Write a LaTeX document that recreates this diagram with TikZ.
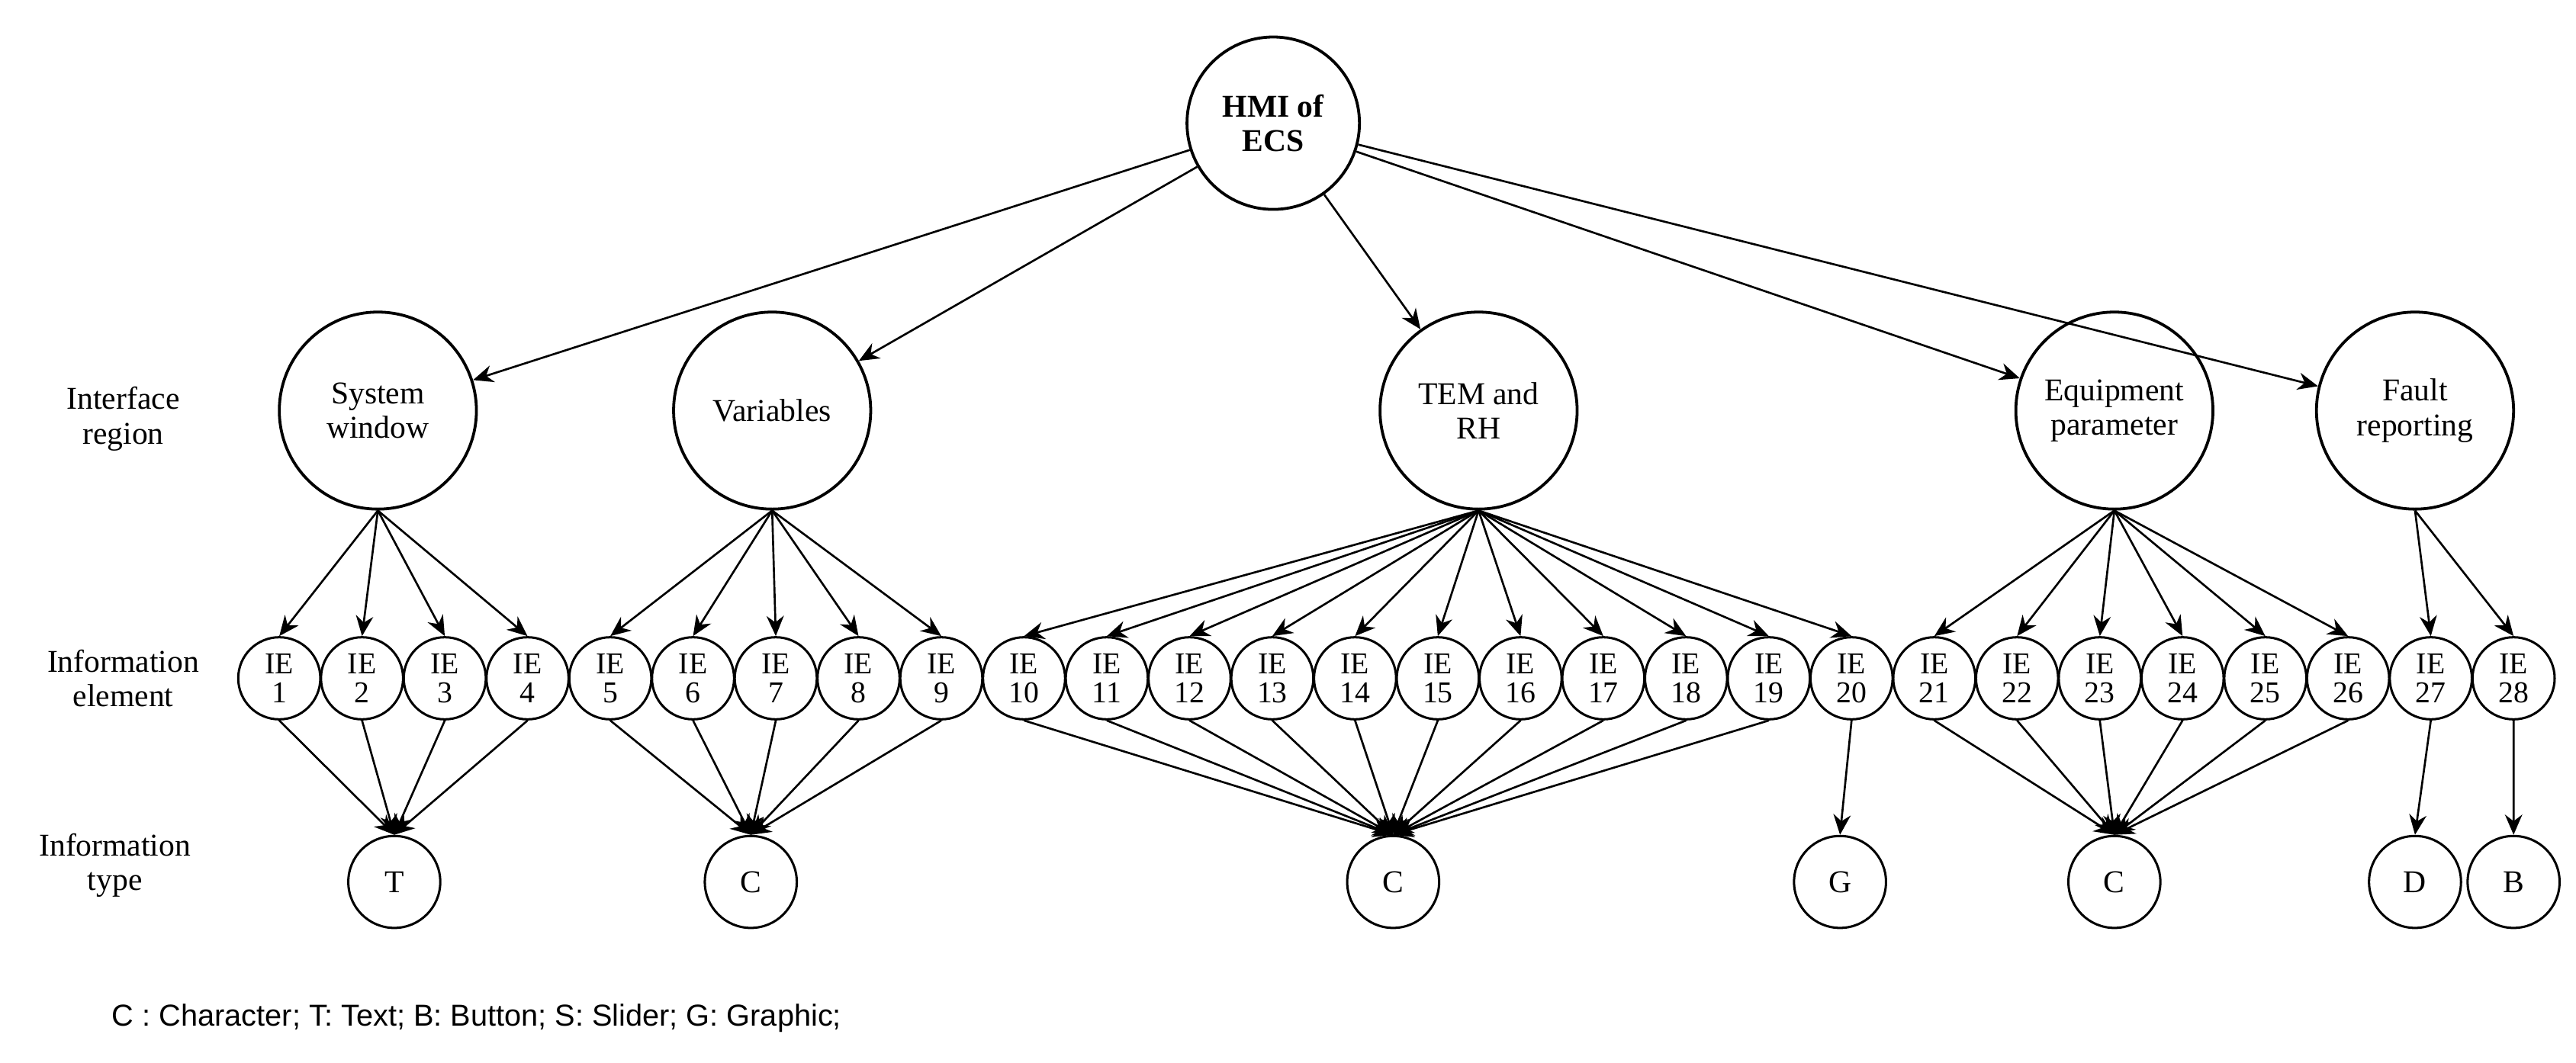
\documentclass[tikz,border=0pt]{standalone}
\usepackage{fontspec}
\setmainfont{Liberation Serif}
\newfontfamily\legendfont{Liberation Sans}
\usetikzlibrary{arrows.meta}
\begin{document}
\begin{tikzpicture}[x=0.02cm,y=-0.02cm,
  every node/.style={font=\fontsize{11}{12}\selectfont},
  big/.style={circle,draw,line width=1pt,minimum size=2.4cm,inner sep=0pt,align=center},
  root/.style={circle,draw,line width=1pt,minimum size=2.1cm,inner sep=0pt,align=center,font=\fontsize{11}{12}\selectfont\bfseries},
  ie/.style={circle,draw,line width=0.8pt,minimum size=1cm,inner sep=0pt,align=center,font=\fontsize{10.5}{10}\selectfont},
  ty/.style={circle,draw,line width=0.8pt,minimum size=1.12cm,inner sep=0pt},
  lab/.style={align=center},
  arr/.style={-{Stealth[length=7pt,width=6pt]},line width=0.7pt}]
\useasboundingbox (0,0) rectangle (1568,647);
\node[root] (root) at (775,75) {HMI of\\ECS};
\node[big] (A) at (230,250) {System\\window};
\node[big] (B) at (470,250) {Variables};
\node[big] (Cc) at (900,250) {TEM and\\RH};
\node[big] (D) at (1287,250) {Equipment\\parameter};
\node[big] (E) at (1470,250) {Fault\\reporting};
\foreach \n in {A,B,Cc,D,E} \draw[arr] (root) -- (\n);
\node[lab] (l1) at (75,255) {Interface\\region};
\node[lab] (l2) at (75,413) {Information\\element};
\node[lab] (l3) at (70,527) {Information\\type};
\foreach \i in {1,...,28} \node[ie] (ie\i) at ({170+50.37*(\i-1)},413) {IE\\\i};
\node[ty] (tT) at (240,537) {T};
\node[ty] (tC1) at (457,537) {C};
\node[ty] (tC2) at (848,537) {C};
\node[ty] (tG) at (1120,537) {G};
\node[ty] (tC3) at (1287,537) {C};
\node[ty] (tD) at (1470,537) {D};
\node[ty] (tB) at (1530,537) {B};
\foreach \i in {1,...,4} {\draw[arr] (A.south) -- (ie\i.north); \draw[arr] (ie\i.south) -- (tT.north);}
\foreach \i in {5,...,9} {\draw[arr] (B.south) -- (ie\i.north); \draw[arr] (ie\i.south) -- (tC1.north);}
\foreach \i in {10,...,20} \draw[arr] (Cc.south) -- (ie\i.north);
\foreach \i in {10,...,19} \draw[arr] (ie\i.south) -- (tC2.north);
\draw[arr] (ie20.south) -- (tG.north);
\foreach \i in {21,...,26} {\draw[arr] (D.south) -- (ie\i.north); \draw[arr] (ie\i.south) -- (tC3.north);}
\foreach \i in {27,28} \draw[arr] (E.south) -- (ie\i.north);
\draw[arr] (ie27.south) -- (tD.north);
\draw[arr] (ie28.south) -- (tB.north);
\node[anchor=west,font=\legendfont\fontsize{10.5}{12}\selectfont] (leg) at (62,620) {C : Character; T: Text; B: Button; S: Slider; G: Graphic;};
\end{tikzpicture}
\end{document}
